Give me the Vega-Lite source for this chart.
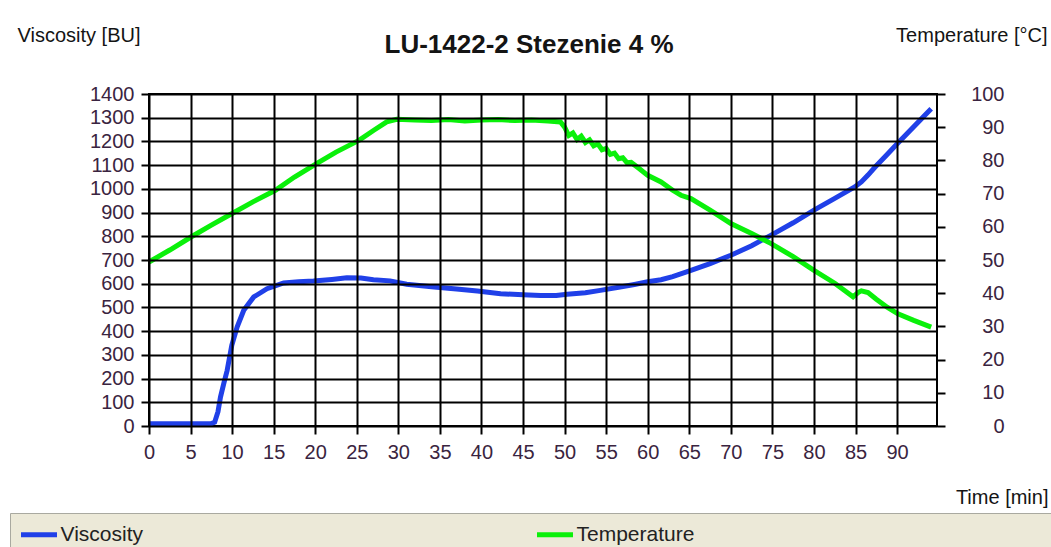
{
  "$schema": "https://vega.github.io/schema/vega-lite/v6.json",
  "width": 788,
  "height": 332,
  "autosize": {"type": "none"},
  "padding": {"left": 149, "top": 94, "right": 114, "bottom": 121},
  "background": "#ffffff",
  "title": {
    "text": "LU-1422-2 Stezenie 4 %",
    "font": "Liberation Sans",
    "fontSize": 26,
    "fontWeight": "bold",
    "color": "#141414",
    "anchor": "middle",
    "frame": "group",
    "dx": -14,
    "dy": 37,
    "offset": 4
  },
  "config": {
    "view": {"stroke": "#000000", "strokeWidth": 2},
    "axis": {
      "labelFont": "Liberation Sans",
      "labelFontSize": 20,
      "labelColor": "#3a2440",
      "titleFont": "Liberation Sans",
      "titleFontSize": 20,
      "titleFontWeight": "normal",
      "titleColor": "#141414",
      "tickColor": "#000000",
      "tickWidth": 2,
      "tickSize": 8,
      "gridColor": "#000000",
      "gridWidth": 2,
      "gridOpacity": 1,
      "domain": false,
      "labelFlush": false,
      "labelOverlap": false,
      "format": "d"
    }
  },
  "datasets": {
    "visc": [
      {"t": 0, "v": 10}, {"t": 2, "v": 10}, {"t": 4, "v": 10}, {"t": 6, "v": 10}, {"t": 7.5, "v": 10},
      {"t": 7.9, "v": 16}, {"t": 8.3, "v": 60}, {"t": 8.6, "v": 122}, {"t": 9.0, "v": 180}, {"t": 9.4, "v": 234},
      {"t": 9.96, "v": 340}, {"t": 10.6, "v": 417}, {"t": 11.4, "v": 488}, {"t": 12.6, "v": 544}, {"t": 14.2, "v": 579},
      {"t": 16.2, "v": 603}, {"t": 18, "v": 608}, {"t": 19.8, "v": 611}, {"t": 22, "v": 618}, {"t": 23.8, "v": 625},
      {"t": 25.5, "v": 624}, {"t": 27, "v": 617}, {"t": 29, "v": 612}, {"t": 31, "v": 598}, {"t": 34.3, "v": 586},
      {"t": 37, "v": 578}, {"t": 39.5, "v": 569}, {"t": 42.3, "v": 558}, {"t": 45, "v": 553}, {"t": 47.1, "v": 550},
      {"t": 49, "v": 550}, {"t": 50.3, "v": 556}, {"t": 52.5, "v": 562}, {"t": 54.3, "v": 572}, {"t": 56.5, "v": 585},
      {"t": 58.4, "v": 597}, {"t": 60, "v": 608}, {"t": 61.6, "v": 617}, {"t": 63, "v": 630}, {"t": 65.2, "v": 656},
      {"t": 67.5, "v": 685}, {"t": 70, "v": 720}, {"t": 72.5, "v": 760}, {"t": 74.8, "v": 804}, {"t": 77.5, "v": 857},
      {"t": 80, "v": 910}, {"t": 82.5, "v": 960}, {"t": 84.9, "v": 1008}, {"t": 85.7, "v": 1029}, {"t": 86.5, "v": 1058},
      {"t": 87.3, "v": 1090}, {"t": 88.8, "v": 1145}, {"t": 90.1, "v": 1193}, {"t": 92, "v": 1262}, {"t": 94.1, "v": 1338}
    ],
    "temp": [
      {"t": 0, "c": 49.4}, {"t": 2.5, "c": 53}, {"t": 5.1, "c": 57}, {"t": 7.5, "c": 60.5}, {"t": 10, "c": 64},
      {"t": 12.5, "c": 67.5}, {"t": 15.2, "c": 71}, {"t": 17.5, "c": 75}, {"t": 20.2, "c": 79.1}, {"t": 22.5, "c": 82.5},
      {"t": 25.3, "c": 86.1}, {"t": 27, "c": 89}, {"t": 28.6, "c": 91.6}, {"t": 29.8, "c": 92.4}, {"t": 32, "c": 92.2},
      {"t": 34, "c": 92}, {"t": 36, "c": 92.3}, {"t": 38, "c": 91.9}, {"t": 40, "c": 92.2}, {"t": 42, "c": 92.3},
      {"t": 44, "c": 92}, {"t": 46, "c": 92.2}, {"t": 48, "c": 91.9}, {"t": 49.5, "c": 91.6}, {"t": 50.0, "c": 90.0},
      {"t": 50.5, "c": 87.5}, {"t": 51.0, "c": 88.3}, {"t": 51.5, "c": 86.3}, {"t": 52.0, "c": 87.3}, {"t": 52.5, "c": 85.4},
      {"t": 53.0, "c": 86.2}, {"t": 53.5, "c": 84.4}, {"t": 54.0, "c": 85.0}, {"t": 54.5, "c": 83.2}, {"t": 55.0, "c": 83.6},
      {"t": 55.5, "c": 81.8}, {"t": 56.0, "c": 82.2}, {"t": 56.5, "c": 80.5}, {"t": 57.0, "c": 80.8}, {"t": 57.5, "c": 79.3},
      {"t": 58.0, "c": 79.4}, {"t": 59.0, "c": 77.5}, {"t": 60.0, "c": 75.5}, {"t": 61.6, "c": 73.5}, {"t": 63, "c": 71},
      {"t": 64, "c": 69.5}, {"t": 65.2, "c": 68.5}, {"t": 67.5, "c": 65}, {"t": 70, "c": 61}, {"t": 72.5, "c": 58},
      {"t": 74.8, "c": 55}, {"t": 77.5, "c": 51}, {"t": 80, "c": 46.9}, {"t": 82.5, "c": 43}, {"t": 84.7, "c": 38.9},
      {"t": 85.3, "c": 40.2}, {"t": 85.7, "c": 40.7}, {"t": 86.5, "c": 40.2}, {"t": 87.5, "c": 38.2}, {"t": 88.8, "c": 35.8},
      {"t": 90.1, "c": 33.8}, {"t": 92, "c": 31.8}, {"t": 94.1, "c": 29.8}
    ]
  },
  "layer": [
    {
      "data": {"name": "visc"},
      "mark": {"type": "line", "strokeWidth": 5, "clip": true},
      "encoding": {
        "x": {
          "field": "t", "type": "quantitative",
          "scale": {"domain": [0, 94.8], "nice": false, "zero": false},
          "axis": {
            "values": [0, 5, 10, 15, 20, 25, 30, 35, 40, 45, 50, 55, 60, 65, 70, 75, 80, 85, 90],
            "grid": true,
            "zindex": 1,
            "labelPadding": 8,
            "title": "Time [min]",
            "titleX": 899,
            "titleY": 77,
            "titleAlign": "right",
            "titleAnchor": null,
            "titleBaseline": "alphabetic"
          }
        },
        "y": {
          "field": "v", "type": "quantitative",
          "scale": {"domain": [0, 1400], "nice": false},
          "axis": {
            "orient": "left",
            "values": [0, 100, 200, 300, 400, 500, 600, 700, 800, 900, 1000, 1100, 1200, 1300, 1400],
            "grid": true,
            "zindex": 1,
            "labelPadding": 7,
            "title": "Viscosity [BU]",
            "titleAngle": 0,
            "titleX": -132,
            "titleY": -53,
            "titleAlign": "left",
            "titleAnchor": null,
            "titleBaseline": "alphabetic"
          }
        },
        "color": {
          "datum": "Viscosity",
          "type": "nominal",
          "scale": {"domain": ["Viscosity", "Temperature"], "range": ["#2040e8", "#0af00a"]},
          "legend": {
            "orient": "none",
            "legendX": -139,
            "legendY": 419,
            "direction": "horizontal",
            "title": "\u00a0",
            "titleOrient": "right",
            "titlePadding": 360,
            "titleFontSize": 10,
            "symbolType": "M-1.8,0H1.8",
            "symbolStrokeWidth": 5,
            "symbolSize": 400,
            "symbolOffset": 7.5,
            "labelFont": "Liberation Sans",
            "labelFontSize": 21,
            "labelColor": "#222222",
            "labelOffset": 9,
            "labelLimit": 900,
            "columnPadding": 384,
            "padding": 9,
            "fillColor": "#ECE9D8",
            "strokeColor": "#a9a9a0"
          }
        }
      }
    },
    {
      "data": {"name": "temp"},
      "mark": {"type": "line", "strokeWidth": 5, "clip": true},
      "encoding": {
        "x": {"field": "t", "type": "quantitative"},
        "y": {
          "field": "c", "type": "quantitative",
          "scale": {"domain": [0, 100], "nice": false},
          "axis": {
            "orient": "right",
            "values": [0, 10, 20, 30, 40, 50, 60, 70, 80, 90, 100],
            "grid": false,
            "labelAlign": "right",
            "labelPadding": 59,
            "title": "Temperature [°C]",
            "titleAngle": 0,
            "titleX": 110,
            "titleY": -53,
            "titleAlign": "right",
            "titleAnchor": null,
            "titleBaseline": "alphabetic"
          }
        },
        "color": {"datum": "Temperature", "type": "nominal"}
      }
    }
  ],
  "resolve": {"scale": {"y": "independent"}}
}
